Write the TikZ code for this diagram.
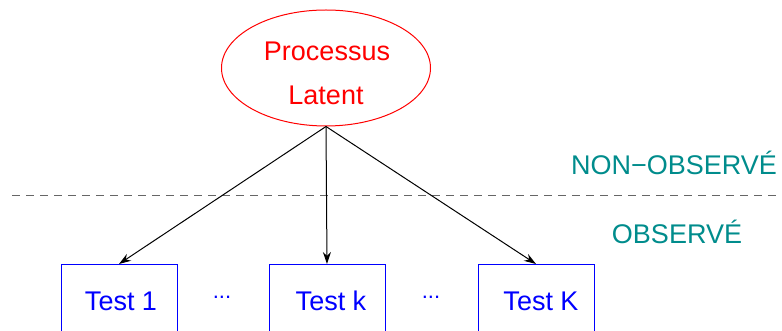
\documentclass[tikz,border=0pt]{standalone}
\usepackage{fontspec}
\setmainfont{Liberation Sans}
\usetikzlibrary{arrows.meta,shapes.geometric}
\definecolor{tealc}{RGB}{0,140,140}
\begin{document}
\begin{tikzpicture}[x=0.5pt,y=-0.5pt,
  every node/.style={font=\fontsize{13.5}{22.5}\selectfont, inner sep=0pt},
  latent/.style={draw=red, line width=0.5pt, ellipse, minimum width=104.5pt, minimum height=58pt},
  latenttext/.style={text=red},
  testbox/.style={draw=blue, line width=0.5pt, minimum width=58pt, minimum height=38pt, anchor=north},
  testlabel/.style={text=blue},
  dots/.style={text=blue, font=\fontsize{11}{13}\selectfont},
  conn/.style={-{Stealth[length=6pt,width=4pt]}, line width=0.5pt},
  region/.style={text=tealc}]
\useasboundingbox (0,0) rectangle (782,331);
\clip (0,0) rectangle (782,331);
\node[latent] (lat) at (326,68) {};
\node[latenttext] (p1) at (327,51) {Processus};
\node[latenttext] (p2) at (326,95) {Latent};
\node[testbox] (t1) at (119,264) {};
\node[testbox] (tk) at (327,264) {};
\node[testbox] (tK) at (536,264) {};
\node[testlabel] (l1) at (121,301) {Test 1};
\node[testlabel] (lk) at (331,301) {Test k};
\node[testlabel] (lK) at (541,301) {Test K};
\node[dots] (d1) at (222,297) {...};
\node[dots] (d2) at (431,297) {...};
\coordinate (dl) at (12,195);
\coordinate (dr) at (782,195);
\draw[dash pattern=on 4pt off 3pt, black!60, line width=0.4pt] (dl) -- (dr);
\node[region] (nonobs) at (674,163) {NON−OBSERVÉ};
\node[region] (obs) at (677,232) {OBSERVÉ};
\draw[conn] (lat.south) -- (t1.north);
\draw[conn] (lat.south) -- (tk.north);
\draw[conn] (lat.south) -- (tK.north);
\end{tikzpicture}
\end{document}
